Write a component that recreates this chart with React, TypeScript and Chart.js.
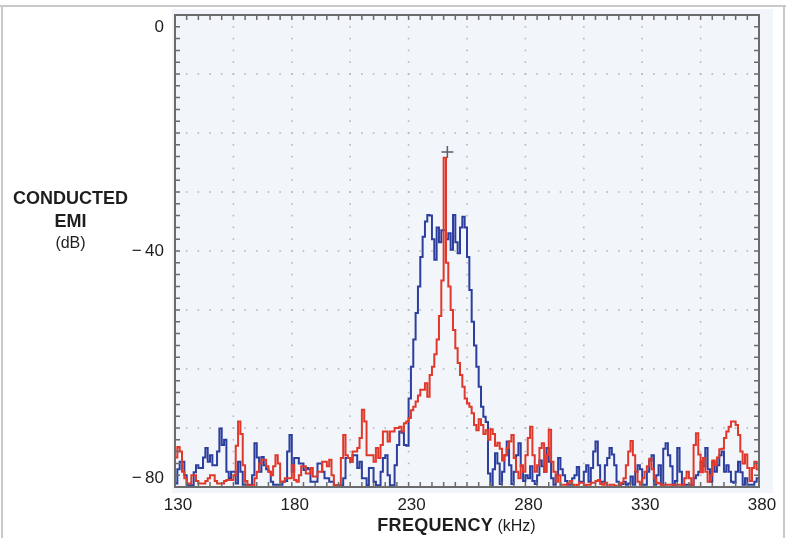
import React, { useEffect, useRef } from "react";
import { Chart, registerables } from "chart.js";

Chart.register(...registerables);

// Frequency grid of the analyser trace (kHz); each value holds for one bin
const FREQ_START = 130;
const FREQ_STEP = 1;
const X_MIN = 130;
const X_MAX = 380;
const Y_MIN = -80;
const Y_MAX = 0;
const X_TICKS = [130, 180, 230, 280, 330, 380];
const Y_TICKS = [0, -40, -80];

// Red trace, dB, 130..380 kHz every 1 kHz
const RED_LEVELS = [
  -77, -75, -73.2, -74, -77.4, -78.5, -79.4, -79.4, -78, -78,
  -79, -79.4, -79.4, -79.4, -79, -78.5, -78, -78, -79, -79.4,
  -79.4, -79.4, -79, -78.8, -78.8, -78.8, -78, -73, -68.9, -71,
  -76.3, -79, -79.7, -79.7, -79.7, -78.5, -77.4, -76, -75.4, -75.4,
  -76.5, -77.4, -78, -76.5, -74.6, -76, -79.1, -79.1, -78.5, -78.5,
  -78.5, -76.3, -78.8, -79.1, -78, -76.5, -76.5, -77.7, -77.7, -76.8,
  -78.2, -78.2, -77.4, -77.4, -75.7, -75.7, -76.5, -75.4, -78, -79.7,
  -79.7, -79.7, -75.1, -71.2, -74.6, -75.1, -75.7, -74, -74, -73.4,
  -71.7, -66.9, -68.9, -74.6, -74.6, -74.6, -75.7, -73.4, -75.1, -72.9,
  -70.6, -70.6, -72.3, -70.6, -70.6, -70, -70, -69.8, -70.6, -69.2,
  -68.9, -68.3, -67, -66.4, -65.5, -64.5, -63.5, -63.5, -62.4, -64.7,
  -61, -59.6, -57.5, -55, -51, -45, -24.2, -42, -46, -50,
  -53.4, -56.5, -59, -61, -63, -65, -65.8, -66.4, -67.5, -69.5,
  -70.4, -68.5, -69.5, -71, -70.4, -72, -70.2, -71, -73, -72.5,
  -73.5, -75.5, -74.6, -73.4, -72.3, -71.2, -75.1, -77.4, -78.5, -76.3,
  -77.4, -74.6, -71.7, -69.8, -74.6, -77.4, -76.3, -73.4, -72.6, -77.4,
  -74.6, -70.3, -75.7, -77.4, -79.1, -78, -79.6, -79.6, -79.6, -79.4,
  -79, -79.6, -80, -79.6, -79.3, -79.3, -79.8, -79.6, -79.6, -79.3,
  -79.3, -79, -78.8, -79.5, -79.6, -79.3, -80, -79.6, -79.6, -79.8,
  -80, -79.6, -79.3, -78.5, -76.3, -74, -72.2, -74.6, -77.4, -79.1,
  -79.6, -78.5, -77.4, -76.5, -75.2, -77, -78.5, -79.3, -79.4, -79.6,
  -79.6, -79.6, -79.6, -79.6, -79.6, -79.6, -79.6, -79.6, -79.6, -78.5,
  -77.4, -78.5, -79.6, -72.9, -70.9, -74.5, -77.5, -75.1, -77.4, -79.1,
  -78, -75.5, -76.3, -75, -73.6, -73.5, -71.7, -70.6, -69.8, -68.9,
  -68.9, -69.5, -71.2, -74, -76, -74.5, -76.8, -79, -76.8, -75.7,
  -77,
];

// Blue trace, dB, 130..380 kHz every 1 kHz
const BLUE_LEVELS = [
  -78, -79.4, -77, -75.7, -75.7, -78, -79.7, -79.7, -79.7, -77.5,
  -76.3, -76.8, -76.8, -75, -73.4, -75.7, -74.6, -76.3, -76.3, -74,
  -70.1, -72.9, -72, -77.4, -78.5, -77.4, -77.4, -79.4, -75.7, -77.4,
  -79.6, -79.6, -79.6, -79.6, -78, -72.6, -75, -77.4, -74.9, -76.3,
  -77, -77.4, -79.1, -79.6, -79.6, -79.6, -79.6, -79.1, -79, -74,
  -71.2, -77.4, -75.1, -75.1, -76, -76, -77.1, -76.8, -77, -79.1,
  -79.1, -79.1, -76, -76, -77.4, -78.5, -78.5, -79.1, -79.1, -79.7,
  -79.7, -79.7, -79.7, -78.5, -75.1, -75.1, -75.7, -74.6, -74.6, -76.8,
  -75.7, -78.5, -78.5, -79.7, -76.8, -76.8, -79.1, -79.7, -79.7, -77.4,
  -75.1, -74.6, -78, -79.7, -79.7, -76.3, -72.9, -70.6, -70.8, -72.9,
  -73, -65, -59.6, -55, -50.5, -46, -41, -37.6, -35, -33.9,
  -34, -38, -41.5, -36, -38.5, -36.5, -36.5, -38, -37, -39.8,
  -33.9, -38.5, -40.4, -36, -34.2, -36, -41, -46.6, -52, -56,
  -59.6, -63, -66.4, -68.1, -69, -77.7, -80, -77, -74.3, -76,
  -79.5, -77.4, -74.6, -72.3, -76.3, -79.5, -77.4, -74.6, -72.6, -76.5,
  -79, -78, -78.5, -76.5, -79, -79.5, -78, -75.5, -76.5, -77.4,
  -73.4, -75.7, -78.5, -79.6, -78, -75.1, -77, -78, -79, -79.6,
  -79.6, -78.5, -78, -76.6, -79.1, -79.1, -77.4, -76.3, -79.1, -76.8,
  -74, -72.3, -76.3, -79.1, -79.1, -76.3, -75.1, -73.4, -74.5, -76.3,
  -79.1, -79.6, -79.5, -79.1, -79.6, -79.4, -78.2, -79.6, -77.4, -76.3,
  -77, -79.6, -79.6, -77.4, -75.5, -74.6, -79.6, -78, -76.3, -79.6,
  -73.5, -72.6, -74.6, -76.5, -79.6, -79, -73.4, -77.4, -79.6, -79.6,
  -79.6, -79.6, -79.6, -78.5, -78, -77.4, -75.7, -76.5, -73.4, -77,
  -79.1, -75.7, -77.4, -76.3, -74.6, -74, -77.4, -76.3, -77.4, -79.1,
  -79.3, -77.4, -75.7, -77.5, -79.6, -78.5, -79.6, -79.6, -79.6, -79.1,
  -78.5,
];

// Peak marker (+)
const PEAK_FREQ = [246.6];
const PEAK_LEVEL = [-23.2];

const RED_COLOR = "#e0392b";
const BLUE_COLOR = "#2c3f9e";
const FONT = "'Liberation Sans', Arial, Helvetica, sans-serif";

export default function App() {
  const canvasRef = useRef<HTMLCanvasElement | null>(null);

  useEffect(() => {
    const canvas = canvasRef.current;
    if (!canvas) return;

    const toPoints = (levels: number[]) =>
      levels.map((v, i) => ({ x: FREQ_START + i * FREQ_STEP, y: v }));

    const framePlugin = {
      id: "scopeFrame",
      beforeDraw(chart: any) {
        const { ctx, chartArea } = chart;
        const { left, right, top, bottom } = chartArea;
        ctx.save();
        ctx.fillStyle = "#f2f5f9";
        ctx.fillRect(left - 3, top - 6, right - left + 17, bottom - top + 12);
        ctx.restore();
      },
      beforeDatasetsDraw(chart: any) {
        const { ctx, scales } = chart;
        const xs = scales.x;
        const ys = scales.y;
        ctx.save();
        ctx.fillStyle = "#b4b9bf";
        const d = 1.6;
        for (let f = X_MIN + 25; f < X_MAX; f += 25) {
          const px = xs.getPixelForValue(f);
          for (let v = Y_MAX - 2; v > Y_MIN; v -= 2) {
            const py = ys.getPixelForValue(v);
            ctx.fillRect(px - d / 2, py - d / 2, d, d);
          }
        }
        for (let v = Y_MAX - 10; v > Y_MIN; v -= 10) {
          const py = ys.getPixelForValue(v);
          for (let f = X_MIN + 5; f < X_MAX; f += 5) {
            const px = xs.getPixelForValue(f);
            ctx.fillRect(px - d / 2, py - d / 2, d, d);
          }
        }
        ctx.restore();
      },
      afterDatasetsDraw(chart: any) {
        const { ctx, chartArea, scales } = chart;
        const { left, right, top, bottom } = chartArea;
        const xs = scales.x;
        const ys = scales.y;
        ctx.save();
        ctx.strokeStyle = "#6b6b6b";
        ctx.lineWidth = 1.5;
        const tl = 5;
        ctx.beginPath();
        for (let f = X_MIN + 5; f < X_MAX; f += 5) {
          const px = xs.getPixelForValue(f);
          ctx.moveTo(px, top);
          ctx.lineTo(px, top + tl);
          ctx.moveTo(px, bottom);
          ctx.lineTo(px, bottom - tl);
        }
        for (let v = Y_MAX - 2; v > Y_MIN; v -= 2) {
          const py = ys.getPixelForValue(v);
          ctx.moveTo(left, py);
          ctx.lineTo(left + tl, py);
          ctx.moveTo(right, py);
          ctx.lineTo(right - tl, py);
        }
        ctx.stroke();
        ctx.lineWidth = 2;
        ctx.strokeRect(left, top, right - left, bottom - top);

        // y tick labels
        ctx.fillStyle = "#1e1e1e";
        ctx.font = "17px " + FONT;
        ctx.textAlign = "right";
        ctx.textBaseline = "middle";
        Y_TICKS.forEach((v) => {
          let py = ys.getPixelForValue(v);
          py = Math.min(Math.max(py, top + 12), bottom - 9);
          const txt = v < 0 ? "\u2212\u2009" + String(Math.abs(v)) : String(v);
          ctx.fillText(txt, left - 11, py);
        });
        ctx.restore();
      },
    };

    const chart = new Chart(canvas, {
      type: "line",
      data: {
        datasets: [
          {
            label: "peak",
            data: PEAK_FREQ.map((f, i) => ({ x: f, y: PEAK_LEVEL[i] })),
            showLine: false,
            pointStyle: "cross",
            pointRadius: 6,
            pointBorderWidth: 1.5,
            borderColor: "#55606c",
            backgroundColor: "#55606c",
          },
          {
            label: "red",
            data: toPoints(RED_LEVELS),
            borderColor: RED_COLOR,
            borderWidth: 2,
            pointRadius: 0,
            stepped: "after",
            fill: false,
          },
          {
            label: "blue",
            data: toPoints(BLUE_LEVELS),
            borderColor: BLUE_COLOR,
            borderWidth: 2,
            pointRadius: 0,
            stepped: "after",
            fill: false,
          },
        ],
      },
      options: {
        animation: false,
        responsive: false,
        maintainAspectRatio: false,
        devicePixelRatio: 1,
        layout: { padding: { left: 175, right: 27, top: 15, bottom: 0 } },
        plugins: { legend: { display: false }, tooltip: { enabled: false } },
        scales: {
          x: {
            type: "linear",
            min: X_MIN,
            max: X_MAX,
            afterBuildTicks: (s: any) => {
              s.ticks = X_TICKS.map((v) => ({ value: v }));
            },
            afterFit: (s: any) => {
              s.height = 51;
            },
            ticks: {
              autoSkip: false,
              maxRotation: 0,
              padding: 8,
              labelOffset: 3,
              color: "#1e1e1e",
              font: { family: FONT, size: 17 },
            },
            grid: { display: false, drawTicks: false },
            border: { display: false },
          },
          y: {
            type: "linear",
            min: Y_MIN,
            max: Y_MAX,
            display: false,
          },
        },
      },
      plugins: [framePlugin],
    } as any);

    return () => chart.destroy();
  }, []);

  return (
    <div
      style={{
        position: "absolute",
        left: 0,
        top: 0,
        width: 786,
        height: 538,
        background: "#ffffff",
        overflow: "hidden",
        fontFamily: FONT,
        color: "#1e1e1e",
      }}
    >
      <div style={{ position: "absolute", left: 0, top: 5, width: 786, height: 2, background: "#c9c9c9" }} />
      <div style={{ position: "absolute", left: 1, top: 5, width: 2, height: 533, background: "#c9c9c9" }} />
      <div style={{ position: "absolute", left: 783, top: 5, width: 2, height: 533, background: "#c9c9c9" }} />
      <canvas
        ref={canvasRef}
        width={786}
        height={538}
        style={{ position: "absolute", left: 0, top: 0, width: 786, height: 538 }}
      />
      <div
        style={{
          position: "absolute",
          left: 0,
          top: 187,
          width: 141,
          textAlign: "center",
          lineHeight: "22.5px",
        }}
      >
        <div style={{ fontWeight: 700, fontSize: 18 }}>CONDUCTED</div>
        <div style={{ fontWeight: 700, fontSize: 18 }}>EMI</div>
        <div style={{ fontWeight: 400, fontSize: 16 }}>(dB)</div>
      </div>
      <div
        style={{
          position: "absolute",
          left: 0,
          top: 514,
          width: 913,
          textAlign: "center",
          lineHeight: "22px",
          whiteSpace: "nowrap",
        }}
      >
        <span style={{ fontWeight: 700, fontSize: 18, letterSpacing: 0.3 }}>FREQUENCY</span>
        <span style={{ fontWeight: 400, fontSize: 16 }}> (kHz)</span>
      </div>
    </div>
  );
}
